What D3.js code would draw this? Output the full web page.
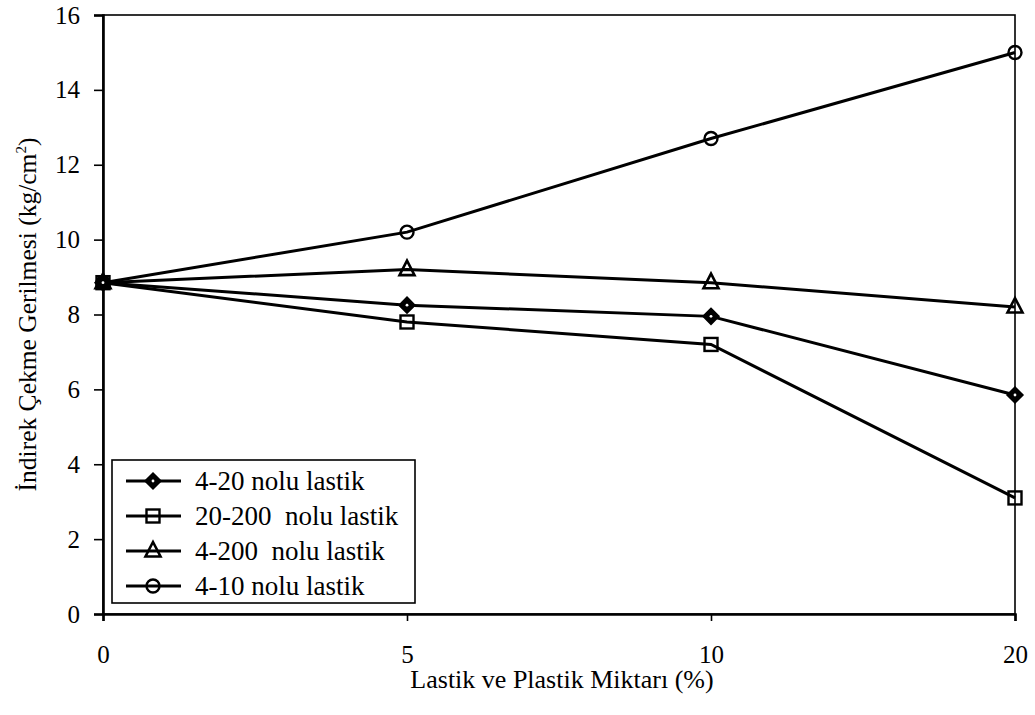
<!DOCTYPE html>
<html><head><meta charset="utf-8">
<script src="https://cdn.jsdelivr.net/npm/d3@7"></script>
<style>body{margin:0;background:#fff}svg{display:block}svg text{font-family:"Liberation Serif","Times New Roman",Tinos,serif !important;fill:#000}</style>
</head><body>
<svg id="c" width="1035" height="715"></svg>
<script>
const categories = ["0","5","10","20"];
const s_4_20   = [8.85, 8.25, 7.95, 5.85];
const s_20_200 = [8.85, 7.8, 7.2, 3.1];
const s_4_200  = [8.85, 9.2, 8.85, 8.2];
const s_4_10   = [8.85, 10.2, 12.7, 15.0];
const seriesNames = ["4-20 nolu lastik","20-200  nolu lastik","4-200  nolu lastik","4-10 nolu lastik"];
const yTicks = [0,2,4,6,8,10,12,14,16];

const series = [
  {name: seriesNames[0], values: s_4_20, shape: "diamond"},
  {name: seriesNames[1], values: s_20_200, shape: "square"},
  {name: seriesNames[2], values: s_4_200, shape: "triangle"},
  {name: seriesNames[3], values: s_4_10, shape: "circle"}
];

const svg = d3.select("#c");
const m = {l:103, r:20, t:15, b:101};
const W = 1035, H = 715;
const x = d3.scalePoint().domain(categories).range([m.l, W - m.r]);
const y = d3.scaleLinear().domain([0,16]).range([H - m.b, m.t]);

// frame
svg.append("rect").attr("x", m.l).attr("y", m.t)
  .attr("width", W - m.r - m.l).attr("height", H - m.b - m.t)
  .attr("fill","none").attr("stroke","#000").attr("stroke-width",1.6);

const ya = svg.append("g").attr("transform",`translate(${m.l},0)`)
  .call(d3.axisLeft(y).tickValues(yTicks).tickSize(9).tickPadding(14).tickFormat(d3.format("d")));
const xa = svg.append("g").attr("transform",`translate(0,${H - m.b})`)
  .call(d3.axisBottom(x).tickSize(7).tickPadding(24));
[ya, xa].forEach(a => {
  a.attr("font-family", null).attr("font-size", null);
  a.select(".domain").attr("stroke","#000").attr("stroke-width",2.6);
  a.selectAll(".tick line").attr("stroke","#000").attr("stroke-width",1.6);
  a.selectAll(".tick text").style("font-size","25px");
});

// axis titles
svg.append("text").attr("x", 562).attr("y", 688)
  .attr("text-anchor","middle").style("font-size","26px").text("Lastik ve Plastik Miktarı (%)");
const yt = svg.append("text").attr("transform",`translate(36,${(m.t + H - m.b)/2}) rotate(-90)`)
  .attr("text-anchor","middle").style("font-size","25.5px");
yt.append("tspan").text("İndirek Çekme Gerilmesi (kg/cm");
yt.append("tspan").attr("dy",-10).style("font-size","15px").text("2");
yt.append("tspan").attr("dy",10).text(")");

function marker(g, shape, cx, cy) {
  if (shape === "diamond") {
    g.append("path").attr("d", `M${cx},${cy-8}L${cx+8},${cy}L${cx},${cy+8}L${cx-8},${cy}Z`)
      .attr("fill","#000").attr("stroke","#000").attr("stroke-width",1.5);
    g.append("circle").attr("cx",cx).attr("cy",cy).attr("r",1.4).attr("fill","#fff");
  } else if (shape === "square") {
    g.append("rect").attr("x",cx-6.5).attr("y",cy-6.5).attr("width",13).attr("height",13)
      .attr("fill","none").attr("stroke","#000").attr("stroke-width",2.4);
  } else if (shape === "triangle") {
    g.append("path").attr("d", `M${cx},${cy-9}L${cx+7.5},${cy+5.5}L${cx-7.5},${cy+5.5}Z`)
      .attr("fill","none").attr("stroke","#000").attr("stroke-width",2.6);
  } else {
    g.append("circle").attr("cx",cx).attr("cy",cy).attr("r",6.5)
      .attr("fill","none").attr("stroke","#000").attr("stroke-width",2.4);
  }
}

const line = d3.line().x((d,i) => x(categories[i])).y(d => y(d));
series.forEach(s => {
  svg.append("path").datum(s.values).attr("d", line)
    .attr("fill","none").attr("stroke","#000").attr("stroke-width",3);
});
series.forEach(s => {
  const g = svg.append("g");
  s.values.forEach((v,i) => marker(g, s.shape, x(categories[i]), y(v)));
});

// legend
const lg = svg.append("g");
lg.append("rect").attr("x",112).attr("y",460).attr("width",303).attr("height",143)
  .attr("fill","#fff").attr("stroke","#000").attr("stroke-width",1.6);
series.forEach((s,i) => {
  const ly = 481 + i*35;
  lg.append("line").attr("x1",126).attr("x2",181).attr("y1",ly).attr("y2",ly)
    .attr("stroke","#000").attr("stroke-width",3);
  marker(lg, s.shape, 153, ly);
  lg.append("text").attr("x",195).attr("y",ly+9).style("font-size","27px")
    .style("white-space","pre").text(s.name);
});
</script>
</body></html>
